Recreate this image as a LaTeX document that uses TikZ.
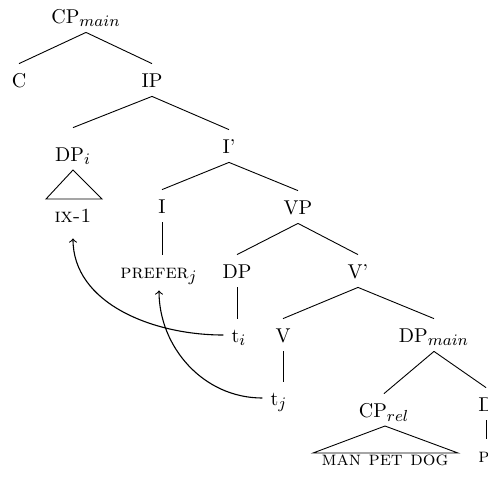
\documentclass[tikz,border=0pt]{standalone}
\DeclareMathSizes{10}{10}{8.5}{6}
\begin{document}
\begin{tikzpicture}[x=0.5pt,y=-0.5pt,
  lbl/.style={anchor=base, inner xsep=2pt, inner ysep=4.5pt, text height=7pt, text depth=0pt},
  edge/.style={line width=0.45pt},
  mv/.style={->, line width=0.55pt}]
\clip (0,0) rectangle (488,479);
% labels
\node[lbl] (cpm) at (86,23) {CP$_{main}$};
\node[lbl] (c) at (19,87) {C};
\node[lbl] (ip) at (152,87) {IP};
\node[lbl] (dpi) at (73,161) {DP$_i$};
\node[lbl] (ibar) at (229,153) {I'};
\node[lbl] (ix) at (73,222) {\textsc{ix-1}};
\node[lbl] (i) at (162,213) {I};
\node[lbl] (vp) at (298,214) {VP};
\node[lbl] (prefer) at (159,278) {\textsc{prefer}$_j$};
\node[lbl] (dp) at (237,278) {DP};
\node[lbl] (vbar) at (358,278) {V'};
\node[lbl] (ti) at (239,342) {t$_i$};
\node[lbl] (v) at (283,342) {V};
\node[lbl] (dpm) at (434,342) {DP$_{main}$};
\node[lbl] (tj) at (279,405) {t$_j$};
\node[lbl] (cpr) at (384,417) {CP$_{rel}$};
\node[lbl, anchor=base west] (d) at (474,411) {D};
\node[lbl] (mpd) at (385,465) {\textsc{man pet dog}};
\node[lbl, anchor=base west] (p) at (474,462) {\textsc{p}};
% tree edges
\draw[edge] (cpm.south) -- (c.north);
\draw[edge] (cpm.south) -- (ip.north);
\draw[edge] (ip.south) -- ([yshift=5pt]dpi.north);
\draw[edge] (ip.south) -- (ibar.north);
\draw[edge] (ibar.south) -- (i.north);
\draw[edge] (ibar.south) -- (vp.north);
\draw[edge] (i.south) -- (i.south |- prefer.north);
\draw[edge] (vp.south) -- (dp.north);
\draw[edge] (vp.south) -- (vbar.north);
\draw[edge] (dp.south) -- (dp.south |- ti.north);
\draw[edge] (vbar.south) -- (v.north);
\draw[edge] (vbar.south) -- (dpm.north);
\draw[edge] (v.south) -- (v.south |- tj.north);
\draw[edge] (dpm.south) -- (cpr.north);
\draw[edge] (dpm.south) -- (d.north);
\draw[edge] (d.south) -- (d.south |- p.north);
% roofs
\draw[edge] (73,170) -- (46,199) -- (102,199) -- cycle;
\draw[edge] (385,426) -- (313,453) -- (458,453) -- cycle;
% movement arrows
\draw[mv, shorten >=3.5pt] ([xshift=-2pt]ti.west) to[out=180,in=-90] (ix.south);
\draw[mv, shorten >=1.5pt] ([xshift=-2pt]tj.west) to[out=180,in=-90] (prefer.south);
\end{tikzpicture}
\end{document}
